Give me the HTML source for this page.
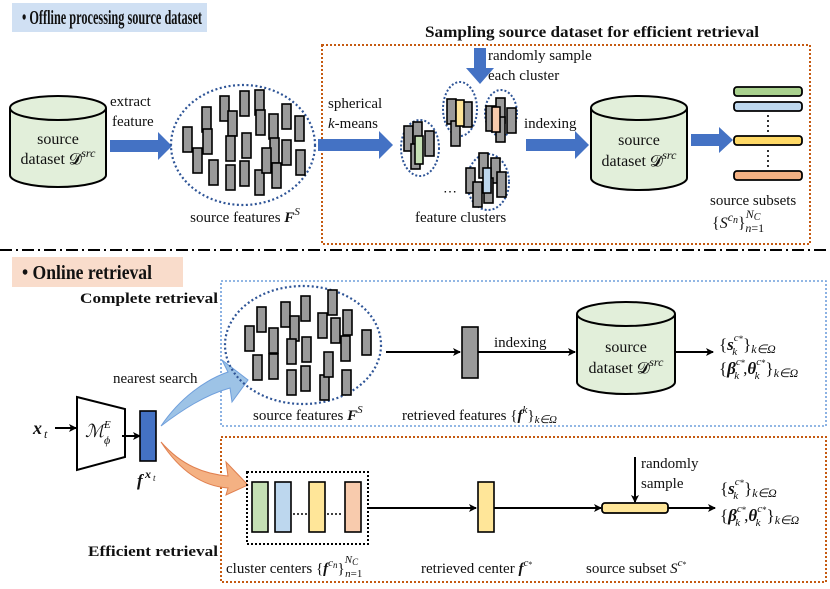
<!DOCTYPE html>
<html><head><meta charset="utf-8"><style>
body{margin:0;background:#fff}
svg{display:block}
text{font-family:"Liberation Serif",serif;fill:#111}
.b{font-weight:bold}
</style></head><body>
<svg width="830" height="589" viewBox="0 0 830 589" xmlns="http://www.w3.org/2000/svg">
<defs>
<marker id="ah" markerWidth="8" markerHeight="8" refX="7" refY="4" orient="auto" markerUnits="userSpaceOnUse"><path d="M0,0 L8,4 L0,8 L2,4z" fill="#000"/></marker>
<g id="gr"><rect width="9" height="25" fill="#9a9a9a" stroke="#000" stroke-width="1.6"/></g>
</defs>
<!-- headers -->
<rect x="12" y="3" width="195" height="29" fill="#d0e0f3"/>
<text x="22" y="24" class="b" font-size="20" textLength="180" lengthAdjust="spacingAndGlyphs">• Offline processing source dataset</text>
<text x="425" y="37" class="b" font-size="16" textLength="334" lengthAdjust="spacingAndGlyphs">Sampling source dataset for efficient retrieval</text>
<rect x="322" y="45" width="488" height="199" fill="none" stroke="#c55a11" stroke-width="2" stroke-dasharray="2,2"/>
<line x1="0" y1="250" x2="830" y2="250" stroke="#000" stroke-width="2" stroke-dasharray="12,4,2,4"/>
<rect x="12" y="257" width="171" height="30" fill="#f9dccb"/>
<text x="22" y="279" class="b" font-size="20" textLength="130" lengthAdjust="spacingAndGlyphs">• Online retrieval</text>
<rect x="221" y="281" width="605" height="145" fill="none" stroke="#6f9fdc" stroke-width="1.6" stroke-dasharray="2,2"/>
<rect x="221" y="437" width="605" height="145" fill="none" stroke="#c55a11" stroke-width="2" stroke-dasharray="2,2"/>
<text x="80" y="303" class="b" font-size="15" textLength="138" lengthAdjust="spacingAndGlyphs">Complete retrieval</text>
<text x="88" y="556" class="b" font-size="15" textLength="130" lengthAdjust="spacingAndGlyphs">Efficient retrieval</text>

<!-- top left cylinder -->
<path d="M10,108 V175 A48,12 0 0 0 106,175 V108" fill="#e2efda" stroke="#000" stroke-width="2"/>
<ellipse cx="58" cy="108" rx="48" ry="12" fill="#e2efda" stroke="#000" stroke-width="2"/>
<text x="58" y="144" font-size="16" text-anchor="middle">source</text>
<text x="58" y="164" font-size="16" text-anchor="middle">dataset 𝓓<tspan font-size="12" font-style="italic" dy="-7">src</tspan></text>
<text x="110" y="106" font-size="15">extract</text>
<text x="112" y="126" font-size="15">feature</text>
<path d="M110,140 H158 V132 L172,146 L158,160 V152 H110z" fill="#4472c4"/>
<!-- big ellipse top -->
<ellipse cx="243" cy="145" rx="72" ry="60" fill="none" stroke="#2f5597" stroke-width="2.2" stroke-dasharray="2,2.5"/>
<g>
<use href="#gr" x="183" y="127"/><use href="#gr" x="193" y="148"/><use href="#gr" x="202" y="107"/><use href="#gr" x="203" y="129"/>
<use href="#gr" x="209" y="160"/><use href="#gr" x="220" y="96"/><use href="#gr" x="228" y="111"/><use href="#gr" x="226" y="136"/>
<use href="#gr" x="226" y="165"/><use href="#gr" x="240" y="91"/><use href="#gr" x="242" y="133"/><use href="#gr" x="240" y="161"/>
<use href="#gr" x="255" y="90"/><use href="#gr" x="256" y="110"/><use href="#gr" x="255" y="170"/><use href="#gr" x="269" y="114"/>
<use href="#gr" x="270" y="138"/><use href="#gr" x="262" y="148"/><use href="#gr" x="272" y="163"/><use href="#gr" x="282" y="104"/>
<use href="#gr" x="282" y="140"/><use href="#gr" x="295" y="116"/><use href="#gr" x="296" y="150"/>
</g>
<text x="245" y="222" font-size="15" text-anchor="middle">source features <tspan font-style="italic" font-weight="bold">F</tspan><tspan font-size="11" font-style="italic" dy="-7">S</tspan></text>
<!-- spherical -->
<text x="328" y="108" font-size="15">spherical</text>
<text x="328" y="128" font-size="15"><tspan font-style="italic">k</tspan>-means</text>
<path d="M318,139 H379 V131 L393,145 L379,159 V151 H318z" fill="#4472c4"/>
<!-- randomly sample arrow -->
<path d="M474,48 H486 V68 H494 L480,84 L466,68 H474z" fill="#4472c4"/>
<text x="488" y="60" font-size="15">randomly sample</text>
<text x="488" y="80" font-size="15">each cluster</text>
<!-- clusters -->
<ellipse cx="420" cy="148" rx="19" ry="28" fill="none" stroke="#2f5597" stroke-width="2" stroke-dasharray="2,2"/>
<use href="#gr" x="404" y="126"/><use href="#gr" x="413" y="122"/><use href="#gr" x="425" y="131"/><use href="#gr" x="411" y="144"/>
<rect x="415" y="136" width="8" height="28" fill="#c5e0b4" stroke="#000" stroke-width="1.6"/>
<ellipse cx="460" cy="109" rx="17" ry="27" fill="none" stroke="#2f5597" stroke-width="2" stroke-dasharray="2,2"/>
<use href="#gr" x="447" y="99"/><use href="#gr" x="463" y="102"/><use href="#gr" x="451" y="121"/>
<rect x="456" y="100" width="8" height="26" fill="#ffe699" stroke="#000" stroke-width="1.6"/>
<ellipse cx="501" cy="113" rx="16" ry="23" fill="none" stroke="#2f5597" stroke-width="2" stroke-dasharray="2,2"/>
<use href="#gr" x="486" y="106"/><use href="#gr" x="496" y="98"/><use href="#gr" x="507" y="108"/><use href="#gr" x="496" y="117"/>
<rect x="492" y="107" width="8" height="25" fill="#f8cbad" stroke="#000" stroke-width="1.6"/>
<ellipse cx="488" cy="182" rx="21" ry="28" fill="none" stroke="#2f5597" stroke-width="2" stroke-dasharray="2,2"/>
<use href="#gr" x="466" y="168"/><use href="#gr" x="479" y="153"/><use href="#gr" x="491" y="158"/><use href="#gr" x="473" y="182"/><use href="#gr" x="497" y="172"/><use href="#gr" x="484" y="178"/>
<rect x="483" y="168" width="8" height="25" fill="#bdd7ee" stroke="#000" stroke-width="1.6"/>
<text x="443" y="196" font-size="14">⋯</text>
<text x="415" y="222" font-size="15">feature clusters</text>
<!-- indexing -->
<text x="524" y="128" font-size="15">indexing</text>
<path d="M526,139 H575 V131 L589,145 L575,159 V151 H526z" fill="#4472c4"/>
<path d="M591,108 V178 A48,12 0 0 0 687,178 V108" fill="#e2efda" stroke="#000" stroke-width="2"/>
<ellipse cx="639" cy="108" rx="48" ry="12" fill="#e2efda" stroke="#000" stroke-width="2"/>
<text x="639" y="145" font-size="16" text-anchor="middle">source</text>
<text x="639" y="166" font-size="16" text-anchor="middle">dataset 𝓓<tspan font-size="12" font-style="italic" dy="-7">src</tspan></text>
<path d="M691,134 H719 V127 L733,140 L719,153 V146 H691z" fill="#4472c4"/>
<!-- disks -->
<g stroke="#000" stroke-width="1.8">
<rect x="734" y="87" width="68" height="9" rx="3" fill="#a9d18e"/><rect x="734" y="102" width="68" height="9" rx="3" fill="#bdd7ee"/>
<rect x="734" y="136" width="68" height="9" rx="3" fill="#ffd966"/><rect x="734" y="171" width="68" height="9" rx="3" fill="#f4b183"/>
</g>
<line x1="768" y1="115" x2="768" y2="133" stroke="#000" stroke-width="1.6" stroke-dasharray="2,3"/>
<line x1="768" y1="150" x2="768" y2="168" stroke="#000" stroke-width="1.6" stroke-dasharray="2,3"/>
<text x="710" y="205" font-size="15">source subsets</text>
<text x="712" y="228" font-size="16">{<tspan font-style="italic">S</tspan><tspan font-size="12" font-style="italic" dy="-7">c</tspan><tspan font-size="10" font-style="italic" dy="2">n</tspan><tspan dy="5">}</tspan><tspan font-size="12" font-style="italic" dy="-10">N</tspan><tspan font-size="10" font-style="italic" dy="2">C</tspan><tspan font-size="12" font-style="italic" dx="-15" dy="12">n</tspan><tspan font-size="12">=1</tspan></text>

<!-- online: encoder -->
<text x="33" y="434" font-size="18" font-style="italic" font-weight="bold">x</text><text x="44" y="438" font-size="12" font-style="italic">t</text>
<line x1="55" y1="428" x2="76" y2="428" stroke="#000" stroke-width="2" marker-end="url(#ah)"/>
<path d="M77,397 L125,409 L125,457 L77,470z" fill="#fff" stroke="#000" stroke-width="2"/>
<text x="85" y="437" font-size="18" font-style="italic">ℳ</text><text x="104" y="428" font-size="11" font-style="italic">E</text><text x="104" y="444" font-size="12" font-style="italic">ϕ</text>
<line x1="122" y1="436" x2="140" y2="436" stroke="#000" stroke-width="2" marker-end="url(#ah)"/>
<rect x="140" y="411" width="16" height="50" fill="#4472c4" stroke="#000" stroke-width="1.6"/>
<text x="137" y="486" font-size="17" font-style="italic" font-weight="bold">f</text><text x="145" y="478" font-size="12" font-style="italic" font-weight="bold">x</text><text x="153" y="481" font-size="9" font-style="italic">t</text>
<text x="113" y="383" font-size="15">nearest search</text>
<path d="M161,426 C180,398 205,380 228,372 L222,360 L248,380 L232,402 L230,388 C205,395 182,410 161,426z" fill="#9dc3e6" stroke="#6f9fdc" stroke-width="1"/>
<path d="M161,442 C182,466 205,474 228,476 L226,462 L248,485 L226,495 L228,488 C200,486 178,468 161,442z" fill="#f4b183" stroke="#e08050" stroke-width="1"/>
<!-- bottom big ellipse -->
<ellipse cx="303" cy="345" rx="78" ry="59" fill="none" stroke="#2f5597" stroke-width="2.2" stroke-dasharray="2,2.5"/>
<g>
<use href="#gr" x="245" y="326"/><use href="#gr" x="253" y="355"/><use href="#gr" x="257" y="307"/><use href="#gr" x="269" y="328"/>
<use href="#gr" x="269" y="354"/><use href="#gr" x="281" y="302"/><use href="#gr" x="290" y="316"/><use href="#gr" x="287" y="339"/>
<use href="#gr" x="287" y="370"/><use href="#gr" x="301" y="296"/><use href="#gr" x="302" y="337"/><use href="#gr" x="301" y="366"/>
<use href="#gr" x="318" y="313"/><use href="#gr" x="328" y="290"/><use href="#gr" x="331" y="318"/><use href="#gr" x="320" y="375"/>
<use href="#gr" x="324" y="352"/><use href="#gr" x="341" y="336"/><use href="#gr" x="343" y="310"/><use href="#gr" x="342" y="370"/><use href="#gr" x="362" y="330"/>
</g>
<text x="253" y="420" font-size="15">source features <tspan font-style="italic" font-weight="bold">F</tspan><tspan font-size="11" font-style="italic" dy="-7">S</tspan></text>
<line x1="386" y1="352" x2="460" y2="352" stroke="#000" stroke-width="2" marker-end="url(#ah)"/>
<rect x="462" y="327" width="16" height="51" fill="#9a9a9a" stroke="#000" stroke-width="1.6"/>
<text x="494" y="347" font-size="15">indexing</text>
<line x1="478" y1="352" x2="575" y2="352" stroke="#000" stroke-width="2" marker-end="url(#ah)"/>
<text x="402" y="420" font-size="15">retrieved features {<tspan font-style="italic" font-weight="bold">f</tspan><tspan font-size="11" font-style="italic" dy="-7">k</tspan><tspan dy="7">}</tspan><tspan font-size="11" font-style="italic" dy="3">k∈Ω</tspan></text>
<path d="M577,314 V382 A49,12 0 0 0 675,382 V314" fill="#e2efda" stroke="#000" stroke-width="2"/>
<ellipse cx="626" cy="314" rx="49" ry="12" fill="#e2efda" stroke="#000" stroke-width="2"/>
<text x="626" y="352" font-size="16" text-anchor="middle">source</text>
<text x="626" y="373" font-size="16" text-anchor="middle">dataset 𝓓<tspan font-size="12" font-style="italic" dy="-7">src</tspan></text>
<line x1="675" y1="352" x2="713" y2="352" stroke="#000" stroke-width="2" marker-end="url(#ah)"/>
<g font-size="17">
<text x="719" y="350">{<tspan font-style="italic" font-weight="bold">s</tspan><tspan font-size="11" font-style="italic" dy="-9">c</tspan><tspan font-size="9" dy="1">*</tspan><tspan font-size="11" font-style="italic" dx="-11" dy="13">k</tspan><tspan dx="6" dy="-5">}</tspan><tspan font-size="12" font-style="italic" dy="3">k∈Ω</tspan></text>
<text x="719" y="374">{<tspan font-style="italic" font-weight="bold">β</tspan><tspan font-size="11" font-style="italic" dy="-9">c</tspan><tspan font-size="9" dy="1">*</tspan><tspan font-size="11" font-style="italic" dx="-11" dy="13">k</tspan><tspan dx="4" dy="-5">,</tspan><tspan font-style="italic" font-weight="bold">θ</tspan><tspan font-size="11" font-style="italic" dy="-9">c</tspan><tspan font-size="9" dy="1">*</tspan><tspan font-size="11" font-style="italic" dx="-11" dy="13">k</tspan><tspan dx="6" dy="-5">}</tspan><tspan font-size="12" font-style="italic" dy="3">k∈Ω</tspan></text>
</g>
<!-- efficient -->
<rect x="247" y="472" width="121" height="72" fill="none" stroke="#000" stroke-width="2" stroke-dasharray="2,2"/>
<g stroke="#000" stroke-width="1.6">
<rect x="252" y="482" width="16" height="50" fill="#c5e0b4"/><rect x="275" y="482" width="16" height="50" fill="#bdd7ee"/>
<rect x="309" y="482" width="16" height="50" fill="#ffe699"/><rect x="345" y="482" width="16" height="50" fill="#f8cbad"/>
</g>
<line x1="293" y1="514" x2="307" y2="514" stroke="#000" stroke-width="1.6" stroke-dasharray="2,2"/>
<line x1="327" y1="514" x2="343" y2="514" stroke="#000" stroke-width="1.6" stroke-dasharray="2,2"/>
<line x1="368" y1="508" x2="476" y2="508" stroke="#000" stroke-width="2" marker-end="url(#ah)"/>
<rect x="478" y="482" width="16" height="50" fill="#ffe699" stroke="#000" stroke-width="1.6"/>
<line x1="494" y1="508" x2="601" y2="508" stroke="#000" stroke-width="2" marker-end="url(#ah)"/>
<rect x="602" y="503" width="66" height="10" rx="3" fill="#ffe699" stroke="#000" stroke-width="1.8"/>
<line x1="635" y1="457" x2="635" y2="502" stroke="#000" stroke-width="2" marker-end="url(#ah)"/>
<text x="641" y="468" font-size="15">randomly</text>
<text x="641" y="488" font-size="15">sample</text>
<line x1="668" y1="508" x2="715" y2="508" stroke="#000" stroke-width="2" marker-end="url(#ah)"/>
<g font-size="17">
<text x="720" y="494">{<tspan font-style="italic" font-weight="bold">s</tspan><tspan font-size="11" font-style="italic" dy="-9">c</tspan><tspan font-size="9" dy="1">*</tspan><tspan font-size="11" font-style="italic" dx="-11" dy="13">k</tspan><tspan dx="6" dy="-5">}</tspan><tspan font-size="12" font-style="italic" dy="3">k∈Ω</tspan></text>
<text x="720" y="521">{<tspan font-style="italic" font-weight="bold">β</tspan><tspan font-size="11" font-style="italic" dy="-9">c</tspan><tspan font-size="9" dy="1">*</tspan><tspan font-size="11" font-style="italic" dx="-11" dy="13">k</tspan><tspan dx="4" dy="-5">,</tspan><tspan font-style="italic" font-weight="bold">θ</tspan><tspan font-size="11" font-style="italic" dy="-9">c</tspan><tspan font-size="9" dy="1">*</tspan><tspan font-size="11" font-style="italic" dx="-11" dy="13">k</tspan><tspan dx="6" dy="-5">}</tspan><tspan font-size="12" font-style="italic" dy="3">k∈Ω</tspan></text>
</g>
<text x="226" y="573" font-size="15">cluster centers {<tspan font-style="italic" font-weight="bold">f</tspan><tspan font-size="11" font-style="italic" dy="-7">c</tspan><tspan font-size="9" font-style="italic" dy="2">n</tspan><tspan dy="5">}</tspan><tspan font-size="11" font-style="italic" dy="-10">N</tspan><tspan font-size="9" font-style="italic" dy="2">C</tspan><tspan font-size="11" font-style="italic" dx="-13" dy="12">n</tspan><tspan font-size="11">=1</tspan></text>
<text x="421" y="573" font-size="15">retrieved center <tspan font-style="italic" font-weight="bold">f</tspan><tspan font-size="11" font-style="italic" dy="-7">c</tspan><tspan font-size="8" dy="1">*</tspan></text>
<text x="586" y="573" font-size="15">source subset <tspan font-style="italic">S</tspan><tspan font-size="11" font-style="italic" dy="-7">c</tspan><tspan font-size="8" dy="1">*</tspan></text>
</svg>
</body></html>
